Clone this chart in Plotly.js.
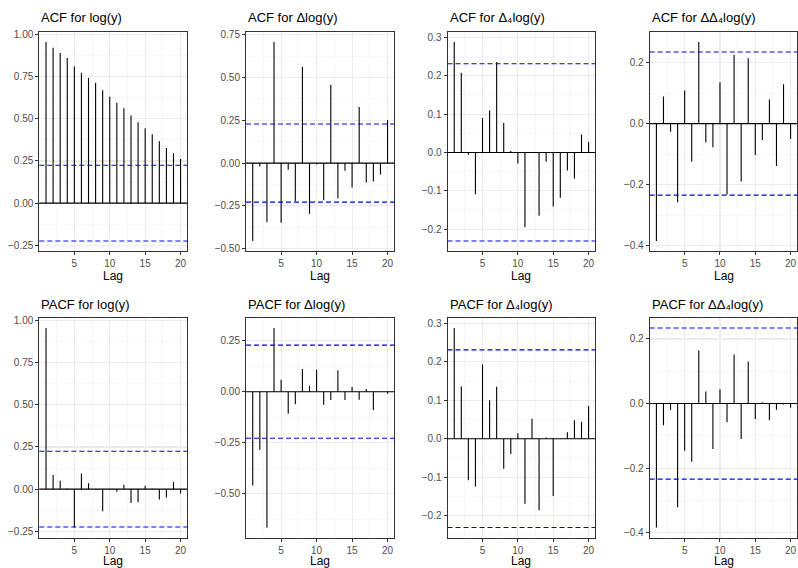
<!DOCTYPE html>
<html><head><meta charset="utf-8">
<script src="https://cdn.plot.ly/plotly-3.0.1.min.js"></script>
<style>html,body{margin:0;padding:0;background:#fff}</style>
</head><body><div id="chart" style="width:798px;height:568px"></div>
<script>
// ---- data ----
const lags = [1,2,3,4,5,6,7,8,9,10,11,12,13,14,15,16,17,18,19,20];
const acfLog    = [0.956,0.921,0.891,0.861,0.810,0.774,0.744,0.714,0.669,0.631,0.595,0.563,0.520,0.480,0.444,0.409,0.367,0.327,0.296,0.262];
const acfDLog   = [-0.455,-0.020,-0.346,0.707,-0.348,-0.039,-0.223,0.562,-0.295,-0.008,-0.217,0.457,-0.207,-0.045,-0.143,0.328,-0.113,-0.107,-0.066,0.250];
const acfD4Log  = [0.288,0.208,-0.006,-0.109,0.090,0.109,0.236,0.077,0.004,-0.029,-0.195,0.001,-0.165,-0.024,-0.141,-0.118,-0.047,-0.068,0.047,0.027];
const acfDD4Log = [-0.384,0.089,-0.027,-0.257,0.108,-0.125,0.267,-0.062,-0.077,0.135,-0.232,0.225,-0.189,0.214,-0.103,-0.054,0.079,-0.139,0.129,-0.050];
const pacfLog    = [0.956,0.084,0.050,0.004,-0.228,0.092,0.034,-0.002,-0.132,-0.002,-0.016,0.026,-0.082,-0.078,0.020,0.002,-0.062,-0.050,0.042,-0.026];
const pacfDLog   = [-0.459,-0.284,-0.665,0.312,0.059,-0.108,-0.062,0.111,0.029,0.108,-0.064,-0.041,0.105,-0.041,0.023,-0.039,0.013,-0.090,-0.002,-0.010];
const pacfD4Log  = [0.288,0.136,-0.108,-0.124,0.193,0.100,0.135,-0.078,-0.040,0.014,-0.169,0.052,-0.186,0.003,-0.149,-0.001,0.017,0.048,0.044,0.085];
const pacfDD4Log = [-0.384,-0.067,-0.020,-0.321,-0.146,-0.180,0.164,0.037,-0.141,0.044,-0.058,0.152,-0.110,0.130,-0.048,0.004,-0.052,-0.019,-0.003,-0.013];
const ciBounds = [0.225, 0.228, 0.231, 0.234];   // 95% bounds per series (log, Δlog, Δ4log, ΔΔ4log)
const seriesNames = ['log(y)', 'Δlog(y)', 'Δ₄log(y)', 'ΔΔ₄log(y)'];
const xTickVals = [5, 10, 15, 20];
const xLabel = 'Lag';

// ---- layout config ----
const W = 798, H = 568;
const colPx = [[39.3,187.3],[246,394.3],[447.5,595.3],[649.7,797.3]];
const rowPx = [[32,251],[318,537.5]];
const yDtick = [0.25, 0.25, 0.1, 0.2];
const yFmt = ['.2f', '.2f', '.1f', '.1f'];
const FONT = 'Liberation Sans, Arial, Helvetica, sans-serif';

const panels = [
  {kind:'ACF', vals: acfLog, s:0}, {kind:'ACF', vals: acfDLog, s:1},
  {kind:'ACF', vals: acfD4Log, s:2}, {kind:'ACF', vals: acfDD4Log, s:3},
  {kind:'PACF', vals: pacfLog, s:0}, {kind:'PACF', vals: pacfDLog, s:1},
  {kind:'PACF', vals: pacfD4Log, s:2}, {kind:'PACF', vals: pacfDD4Log, s:3}
];

const traces = [];
const layout = {
  width: W, height: H, margin: {l:0, r:0, t:0, b:0},
  paper_bgcolor: '#fff', plot_bgcolor: '#fff', showlegend: false,
  font: {family: FONT, color: '#000'},
  annotations: [], shapes: []
};

panels.forEach((p, i) => {
  const row = i < 4 ? 0 : 1, col = i % 4;
  const n = i + 1;
  const xa = 'xaxis' + (n === 1 ? '' : n), ya = 'yaxis' + (n === 1 ? '' : n);
  const xr = 'x' + (n === 1 ? '' : n), yr = 'y' + (n === 1 ? '' : n);
  const ci = ciBounds[p.s];
  const xs = [], ys = [];
  lags.forEach((l, k) => { xs.push(l, l, null); ys.push(0, p.vals[k], null); });
  traces.push({type:'scatter', mode:'lines', x: xs, y: ys, xaxis: xr, yaxis: yr,
    line: {color:'#000', width: 1.1}, hoverinfo:'skip', connectgaps: false});

  const lo = Math.min(0, -ci, ...p.vals), hi = Math.max(0, ci, ...p.vals);
  const ex = (hi - lo) * 0.05;
  const xlo = lags[0], xhi = lags[lags.length-1], xex = (xhi - xlo) * 0.05;

  const xd = [colPx[col][0]/W, colPx[col][1]/W];
  const yd = [1 - rowPx[row][1]/H, 1 - rowPx[row][0]/H];
  const axCommon = {
    showline: true, mirror: true, linecolor: '#333333', linewidth: 1,
    ticks: 'outside', ticklen: 3, tickcolor: '#333333', tickwidth: 1,
    showgrid: true, gridcolor: '#EBEBEB', gridwidth: 1.1,
    zeroline: false,
    tickfont: {size: 10, color: '#4D4D4D', family: FONT}
  };
  layout[xa] = Object.assign({}, axCommon, {
    domain: xd, anchor: yr, range: [xlo - xex, xhi + xex],
    tickvals: xTickVals,
    minor: {showgrid: true, gridcolor: '#F1F1F1', gridwidth: 0.6, tickvals: [2.5, 7.5, 12.5, 17.5], ticks: ''}
  });
  layout[ya] = Object.assign({}, axCommon, {
    domain: yd, anchor: xr, range: [lo - ex, hi + ex],
    tick0: 0, dtick: yDtick[p.s], tickformat: yFmt[p.s],
    minor: {showgrid: true, gridcolor: '#F1F1F1', gridwidth: 0.6, dtick: yDtick[p.s]/2, tick0: yDtick[p.s]/2, ticks: ''}
  });
  // zero line
  layout.shapes.push({type:'line', xref: xr + ' domain', yref: yr, x0:0, x1:1, y0:0, y1:0,
    line:{color:'#000', width:1.1}});
  // confidence bounds
  [ci, -ci].forEach(c => layout.shapes.push({type:'line', xref: xr + ' domain', yref: yr,
    x0:0, x1:1, y0:c, y1:c, line:{color:'#0000FF', width:1.1, dash:'5px,3px'}}));
  // panel title
  layout.annotations.push({
    text: p.kind + ' for ' + seriesNames[p.s], xref:'paper', yref:'paper',
    x: xd[0], y: 1 - (row === 0 ? 18 : 304)/H, xanchor:'left', yanchor:'middle',
    showarrow:false, font:{size:13, color:'#000', family: FONT}
  });
  // x axis label
  layout.annotations.push({
    text: xLabel, xref:'paper', yref:'paper',
    x: (xd[0] + xd[1]) / 2, y: 1 - (row === 0 ? 276 : 561)/H, xanchor:'center', yanchor:'middle',
    showarrow:false, font:{size:12, color:'#000', family: FONT}
  });
});

Plotly.newPlot('chart', traces, layout, {staticPlot: true, displayModeBar: false});
</script>
</body></html>
